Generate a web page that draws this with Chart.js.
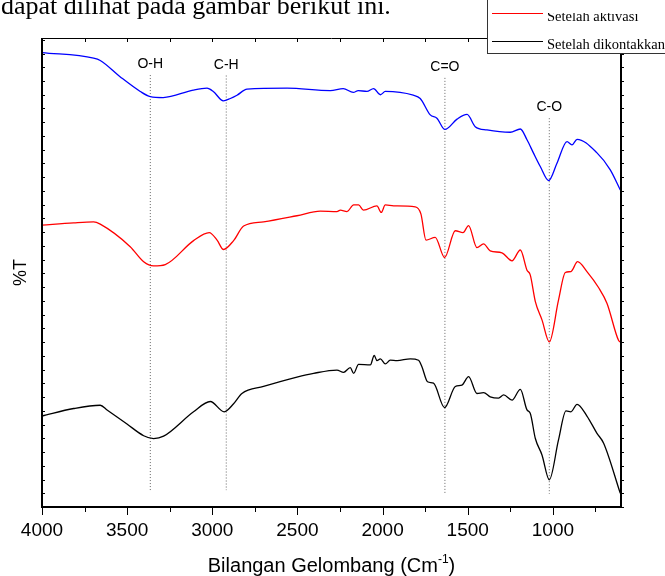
<!DOCTYPE html>
<html>
<head>
<meta charset="utf-8">
<script src="https://cdn.jsdelivr.net/npm/chart.js@4.4.1/dist/chart.umd.min.js"></script>
<style>
  html, body { margin: 0; padding: 0; background: #fff; }
</style>
</head>
<body>
<canvas id="ftir" width="665" height="576"></canvas>
<script>
// FTIR spectra: %T against wavenumber

// upper trace (blue)
const rawWn = [4000, 3697, 3658, 3540, 3423, 3364, 3288, 3112, 3031, 2994, 2935, 2894, 2855, 2796, 2561, 2307, 2231, 2172, 2143, 2092, 2053, 2013, 1984, 1820, 1779, 1720, 1681, 1634, 1563, 1504, 1456, 1387, 1250, 1191, 1152, 1113, 1074, 1025, 976, 917, 888, 858, 741, 663, 604];
const rawT = [96.9, 95.7, 95.2, 91.7, 88.6, 87.5, 87.3, 88.9, 89.3, 88.6, 86.6, 87.1, 87.8, 89.1, 89.3, 88.8, 89.2, 88.4, 88.8, 88.6, 89.2, 87.9, 88.6, 87.8, 87.1, 83.6, 82.9, 80.5, 82.7, 83.7, 81.1, 80.4, 79.9, 80.6, 78.3, 75.4, 72.6, 69.6, 73.3, 77.9, 77.2, 78.4, 75.5, 71.9, 67.6];

// Setelah aktivasi (red)
const activatedWn = [4000, 3814, 3697, 3658, 3482, 3403, 3345, 3276, 3110, 3018, 2972, 2934, 2875, 2816, 2699, 2503, 2366, 2268, 2248, 2209, 2170, 2141, 2112, 2033, 2008, 1984, 1935, 1808, 1775, 1745, 1691, 1636, 1573, 1528, 1495, 1446, 1407, 1368, 1299, 1240, 1191, 1152, 1133, 1103, 1064, 1021, 967, 927, 894, 855, 800, 732, 682, 614, 604];
const activatedT = [60.1, 60.6, 60.8, 60.3, 55.5, 52.3, 51.4, 51.7, 56.8, 58.5, 56.9, 54.9, 56.8, 59.9, 60.8, 62.1, 63.1, 63.0, 63.3, 63.0, 64.4, 64.4, 63.3, 64.2, 62.8, 64.4, 64.2, 64.0, 62.5, 56.9, 57.5, 53.2, 58.9, 58.5, 60.0, 55.3, 56.1, 54.6, 54.2, 52.5, 54.8, 50.5, 49.5, 43.8, 39.9, 35.2, 44.1, 50.0, 50.2, 52.3, 50.2, 46.8, 43.4, 35.5, 35.2];

// Setelah dikontakkan (black)
const contactedWn = [4000, 3814, 3658, 3618, 3501, 3403, 3345, 3286, 3110, 3012, 2930, 2875, 2826, 2699, 2503, 2405, 2268, 2229, 2190, 2170, 2141, 2072, 2049, 2033, 2013, 1984, 1955, 1915, 1837, 1789, 1769, 1736, 1701, 1636, 1573, 1534, 1495, 1446, 1407, 1368, 1319, 1289, 1240, 1191, 1152, 1133, 1103, 1064, 1021, 967, 923, 894, 858, 800, 741, 702, 604];
const contactedT = [19.4, 21.0, 21.7, 20.7, 17.7, 15.2, 14.6, 15.1, 20.3, 22.5, 20.3, 22.0, 24.2, 25.7, 27.7, 28.5, 29.2, 28.7, 29.7, 28.5, 30.4, 30.3, 32.3, 31.2, 31.6, 30.5, 31.3, 31.2, 31.6, 31.3, 29.9, 26.7, 26.4, 21.2, 25.7, 26.0, 27.8, 24.2, 24.4, 23.5, 23.2, 23.9, 22.8, 25.1, 20.7, 20.0, 14.6, 11.1, 5.8, 14.3, 20.5, 20.3, 21.9, 19.4, 15.7, 13.6, 2.9];

// band markers
const bandNames = ['O-H', 'C-H', 'C=O', 'C-O'];
const bandWn = [3364, 2918, 1634, 1021];
const bandTop = [92.1, 92.0, 91.5, 82.9];
const bandBottom = [3.6, 3.6, 2.8, 2.8];

const xTicks = [4000, 3500, 3000, 2500, 2000, 1500, 1000];
const legendNames = ['Setelah aktivasi', 'Setelah dikontakkan'];

const pts = (xs, ys) => xs.map((x, i) => ({ x, y: ys[i] }));

function spectrum(label, xs, ys, color) {
  return {
    label,
    data: pts(xs, ys),
    borderColor: color,
    borderWidth: 1.3,
    pointRadius: 0,
    cubicInterpolationMode: 'monotone',
    fill: false
  };
}

const bandSets = bandWn.map((w, i) => ({
  label: bandNames[i],
  data: [{ x: w, y: bandTop[i] }, { x: w, y: bandBottom[i] }],
  borderColor: '#666',
  borderWidth: 1,
  borderDash: [1, 2],
  pointRadius: 0
}));

const decorations = {
  id: 'decorations',
  afterDraw(chart) {
    const { ctx, chartArea: a, scales: { x, y } } = chart;
    ctx.save();

    // tick marks
    ctx.strokeStyle = '#000';
    ctx.lineWidth = 1;
    for (let v = 4000; v >= 600; v -= 250) {
      const px = Math.round(x.getPixelForValue(v)) + 0.5;
      const major = v % 500 === 0;
      ctx.beginPath();
      ctx.moveTo(px, a.bottom);
      ctx.lineTo(px, a.bottom + (major ? 8 : 5));
      ctx.moveTo(px, a.top);
      ctx.lineTo(px, a.top + 4);
      ctx.stroke();
    }
    for (let v = 0; v <= 100; v += 2.93) {
      const py = Math.round(y.getPixelForValue(v)) + 0.5;
      ctx.beginPath();
      ctx.moveTo(a.left, py);
      ctx.lineTo(a.left + 3, py);
      ctx.moveTo(a.right, py);
      ctx.lineTo(a.right + 3, py);
      ctx.stroke();
    }

    // frame
    ctx.beginPath();
    ctx.moveTo(a.left, a.top + 0.5);
    ctx.lineTo(a.right, a.top + 0.5);
    ctx.stroke();
    ctx.lineWidth = 2;
    ctx.beginPath();
    ctx.moveTo(a.left, a.top);
    ctx.lineTo(a.left, a.bottom);
    ctx.lineTo(a.right, a.bottom);
    ctx.lineTo(a.right, a.top);
    ctx.stroke();

    // x tick labels
    ctx.fillStyle = '#000';
    ctx.font = '19px "Liberation Sans"';
    ctx.textAlign = 'center';
    ctx.textBaseline = 'alphabetic';
    xTicks.forEach(v => ctx.fillText(String(v), x.getPixelForValue(v), 536));

    // band labels
    ctx.font = '14px "Liberation Sans"';
    bandNames.forEach((n, i) => {
      ctx.fillText(n, x.getPixelForValue(bandWn[i]), y.getPixelForValue(bandTop[i]) - 7);
    });

    // axis titles
    ctx.font = '20px "Liberation Sans"';
    const t1 = 'Bilangan Gelombang (Cm', sup = '-1', t2 = ')';
    const w1 = ctx.measureText(t1).width, w2 = ctx.measureText(t2).width;
    ctx.font = '12px "Liberation Sans"';
    const ws = ctx.measureText(sup).width;
    const tx = (a.left + a.right) / 2 - (w1 + ws + w2) / 2;
    const ty = 572;
    ctx.textAlign = 'left';
    ctx.font = '20px "Liberation Sans"';
    ctx.fillText(t1, tx, ty);
    ctx.font = '12px "Liberation Sans"';
    ctx.fillText(sup, tx + w1, ty - 9);
    ctx.font = '20px "Liberation Sans"';
    ctx.fillText(t2, tx + w1 + ws, ty);

    ctx.save();
    ctx.translate(21, (a.top + a.bottom) / 2);
    ctx.rotate(-Math.PI / 2);
    ctx.textAlign = 'center';
    ctx.textBaseline = 'middle';
    ctx.font = '18px "Liberation Sans"';
    ctx.fillText('%T', 0, 0);
    ctx.restore();

    // legend box (cut at the top of the picture)
    ctx.fillStyle = '#fff';
    ctx.fillRect(487, -2, 190, 55);
    ctx.strokeStyle = '#333';
    ctx.lineWidth = 1;
    ctx.strokeRect(487.5, -2, 190, 55.5);
    const colors = [chart.data.datasets[1].borderColor, chart.data.datasets[2].borderColor];
    ctx.font = '14.5px "Liberation Serif"';
    ctx.textAlign = 'left';
    legendNames.forEach((n, i) => {
      const ly = 13.5 + i * 28;
      ctx.strokeStyle = colors[i];
      ctx.beginPath();
      ctx.moveTo(492, ly);
      ctx.lineTo(543, ly);
      ctx.stroke();
      ctx.fillStyle = '#000';
      ctx.fillText(n, 547, ly + 7);
    });
    ctx.fillStyle = '#fff';
    ctx.fillRect(488, 0, 180, 13);

    // running text of the page above the figure
    ctx.fillStyle = '#000';
    ctx.font = '26px "Liberation Serif"';
    ctx.fillText('dapat dilihat pada gambar berikut ini.', 1, 14);

    ctx.restore();
  }
};

new Chart(document.getElementById('ftir'), {
  type: 'line',
  data: {
    datasets: [
      spectrum('', rawWn, rawT, '#0000ff'),
      spectrum(legendNames[0], activatedWn, activatedT, '#ff0000'),
      spectrum(legendNames[1], contactedWn, contactedT, '#000000'),
      ...bandSets
    ]
  },
  options: {
    responsive: false,
    animation: false,
    devicePixelRatio: 1,
    layout: { padding: { left: 42, right: 44, top: 38, bottom: 69 } },
    plugins: {
      legend: { display: false },
      tooltip: { enabled: false }
    },
    scales: {
      x: {
        type: 'linear',
        reverse: true,
        min: 600,
        max: 4000,
        afterFit: s => { s.height = 0; },
        grid: { display: false },
        border: { display: false },
        ticks: { display: false }
      },
      y: {
        min: 0,
        max: 100,
        afterFit: s => { s.width = 0; },
        grid: { display: false },
        border: { display: false },
        ticks: { display: false }
      }
    }
  },
  plugins: [decorations]
});
</script>
</body>
</html>
